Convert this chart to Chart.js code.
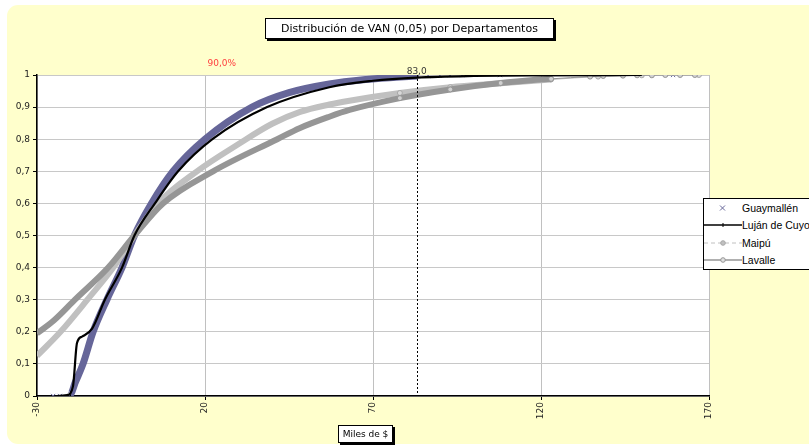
<!DOCTYPE html>
<html>
  <head>
    <title>Distribución de VAN</title>
    <script src="https://cdn.jsdelivr.net/npm/chart.js"></script>
    <style>
      body {
        margin: 0;
        background: white;
        width: 809px;
        height: 446px;
        overflow: hidden;
        position: relative;
      }
      .frame {
        position: absolute;
        left: 7px;
        top: 5px;
        width: 840px;
        height: 439px;
        border-radius: 11px;
        background-color: #ffffcc;
      }
      #vanChart {
        position: absolute;
        left: 0;
        top: 0;
      }
      .box {
        position: absolute;
        background: white;
        border: 1px solid #000;
        box-shadow: 2px 2px 0 #000;
        font-family: "DejaVu Sans", sans-serif;
        color: #000;
        text-align: center;
        white-space: nowrap;
      }
      .title {
        left: 265px;
        top: 18px;
        width: 287px;
        height: 19px;
        line-height: 19px;
        font-size: 11px;
      }
      .xlabel {
        left: 338px;
        top: 425px;
        width: 53px;
        height: 16px;
        line-height: 16px;
        font-size: 9px;
      }
      .legend {
        position: absolute;
        left: 703px;
        top: 198px;
        width: 130px;
        height: 70px;
        background: white;
        border: 1px solid #000;
        font-family: "Liberation Sans", Arial, sans-serif;
        font-size: 10.5px;
        color: #000;
      }
      .legend div {
        height: 17.5px;
        display: flex;
        align-items: center;
      }
      .legend svg {
        width: 38px;
        height: 10px;
      }
    </style>
  </head>
  <body>
    <div class="frame"></div>
    <canvas id="vanChart" width="809" height="446"></canvas>
    <div class="box title">Distribución de VAN (0,05) por Departamentos</div>
    <div class="box xlabel">Miles de $</div>
    <div class="legend" id="legend"></div>

    <script>
      // datos (miles de $, probabilidad acumulada)
      const guayX = [-25.2, -23.2, -20, -18.7, -16.3, -13.3, -9.2, -4.7, -1, 4.1, 10.5, 20, 34, 45, 57, 68, 78, 83.4, 86.4, 89.9, 92.9, 96.5, 107.8, 159.3];
      const guayY = [0, 0, 0.005, 0.04, 0.1, 0.2, 0.3, 0.4, 0.5, 0.6, 0.7, 0.8, 0.9, 0.945, 0.972, 0.986, 0.994, 0.997, 0.998, 0.999, 1, 1, 1, 1];

      const lujanX = [-24, -21, -19.3, -18.1, -16.6, -13.6, -9.8, -4.7, -1, 5.1, 12, 22.2, 38.5, 57, 70, 83, 100, 120, 150];
      const lujanY = [0, 0.003, 0.03, 0.165, 0.185, 0.21, 0.3, 0.4, 0.5, 0.6, 0.7, 0.8, 0.9, 0.962, 0.982, 0.992, 0.997, 0.999, 1];

      const maipuX = [-30, -23, -15, -7.3, -1, 6, 17.6, 30, 40, 48.3, 57, 63, 78, 93, 108, 123, 137, 150, 167];
      const maipuY = [0.125, 0.2, 0.3, 0.4, 0.5, 0.6, 0.7, 0.785, 0.848, 0.885, 0.908, 0.92, 0.944, 0.962, 0.974, 0.986, 0.995, 0.999, 1];

      const lavalleX = [-30, -25, -18.7, -8.8, -1, 7.5, 22.4, 41.5, 48.3, 57, 63, 78, 93, 108, 123, 134.6, 138.5, 144.4, 148.6, 153, 157, 161.4, 165.8];
      const lavalleY = [0.195, 0.235, 0.3, 0.4, 0.5, 0.6, 0.7, 0.8, 0.835, 0.87, 0.891, 0.928, 0.955, 0.975, 0.988, 0.995, 0.997, 0.998, 0.999, 0.999, 1, 1, 1];

      const xTicks = [-30, 20, 70, 120, 170];
      const cutoffX = 83;
      const cutoffLabel = "83,0";
      const pctX = 25;
      const pctLabel = "90,0%";

      const pts = (xs, ys) => xs.map((x, i) => ({ x: x, y: ys[i] }));

      // fondo blanco del area de trazado + linea de corte y etiquetas
      const extras = {
        id: "extras",
        beforeDraw(chart) {
          const a = chart.chartArea;
          const c = chart.ctx;
          c.save();
          c.fillStyle = "#fff";
          c.fillRect(a.left, a.top, a.right - a.left, a.bottom - a.top);
          c.restore();
        },
        afterDatasetsDraw(chart) {
          const c = chart.ctx;
          const xs = chart.scales.x;
          const ys = chart.scales.y;
          const px = xs.getPixelForValue(cutoffX);
          c.save();
          c.strokeStyle = "#000";
          c.lineWidth = 1;
          c.setLineDash([2, 2]);
          c.beginPath();
          c.moveTo(Math.round(px) + 0.5, ys.getPixelForValue(1));
          c.lineTo(Math.round(px) + 0.5, ys.getPixelForValue(0));
          c.stroke();
          c.setLineDash([]);
          c.font = "9px 'DejaVu Sans'";
          c.textAlign = "center";
          c.textBaseline = "bottom";
          c.fillStyle = "#333";
          c.fillText(cutoffLabel, px, ys.getPixelForValue(1) + 1);
          c.fillStyle = "#ff4040";
          c.fillText(pctLabel, xs.getPixelForValue(pctX), ys.getPixelForValue(1) - 7);
          c.restore();
        },
      };

      const tail = (min) => (ctx) => (ctx.raw && (ctx.raw.x >= min) ? 2.5 : 0);

      new Chart(document.getElementById("vanChart"), {
        type: "line",
        data: {
          datasets: [
            {
              label: "Luján de Cuyo",
              data: pts(lujanX, lujanY),
              borderColor: "#000",
              borderWidth: 2.2,
              pointRadius: 0,
              cubicInterpolationMode: "monotone",
              order: 0,
            },
            {
              label: "Guaymallén",
              data: pts(guayX, guayY),
              borderColor: "#666699",
              borderWidth: 7,
              cubicInterpolationMode: "monotone",
              pointStyle: "crossRot",
              pointBorderColor: "#666699",
              pointBorderWidth: 1,
              pointRadius: (ctx) => (ctx.raw && (ctx.raw.x <= -20 || ctx.raw.x >= 83) ? 3 : 0),
              segment: {
                borderColor: (ctx) =>
                  ctx.p1.parsed.x <= -20 || ctx.p0.parsed.x >= 83 ? "rgba(0,0,0,0)" : undefined,
              },
              order: 3,
            },
            {
              label: "Maipú",
              data: pts(maipuX, maipuY),
              borderColor: "#c0c0c0",
              borderWidth: 6,
              cubicInterpolationMode: "monotone",
              pointStyle: "circle",
              pointBackgroundColor: "#d8d8d8",
              pointBorderColor: "#a8a8a8",
              pointBorderWidth: 1,
              pointRadius: tail(78),
              segment: {
                borderWidth: (ctx) => (ctx.p0.parsed.x >= 123 ? 1 : undefined),
              },
              order: 2,
            },
            {
              label: "Lavalle",
              data: pts(lavalleX, lavalleY),
              borderColor: "#969696",
              borderWidth: 6,
              cubicInterpolationMode: "monotone",
              pointStyle: "circle",
              pointBackgroundColor: "#d0d0d0",
              pointBorderColor: "#969696",
              pointBorderWidth: 1,
              pointRadius: tail(78),
              segment: {
                borderWidth: (ctx) => (ctx.p0.parsed.x >= 123 ? 1 : undefined),
              },
              order: 1,
            },
          ],
        },
        options: {
          responsive: false,
          animation: false,
          layout: { padding: { left: 10, top: 75, right: 100, bottom: 20 } },
          plugins: {
            legend: { display: false },
            tooltip: { enabled: false },
          },
          scales: {
            x: {
              type: "linear",
              min: -30,
              max: 170,
              afterBuildTicks: (axis) => {
                axis.ticks = xTicks.map((v) => ({ value: v }));
              },
              afterFit: (axis) => {
                axis.height = 30;
              },
              ticks: {
                minRotation: 90,
                maxRotation: 90,
                padding: 2,
                color: "#222",
                font: { family: "DejaVu Sans", size: 9 },
                callback: (v) => String(v),
              },
              grid: { color: "#c0c0c0", tickColor: "#000", tickLength: 4 },
              border: { color: "#000", width: 1.5 },
            },
            y: {
              min: 0,
              max: 1,
              afterFit: (axis) => {
                axis.width = 27;
              },
              ticks: {
                stepSize: 0.1,
                padding: 3,
                color: "#222",
                font: { family: "DejaVu Sans", size: 9 },
                callback: (v) => (v === 0 ? "0" : v >= 0.999 ? "1" : v.toFixed(1).replace(".", ",")),
              },
              grid: { color: "#c8c8c8", tickColor: "#000", tickLength: 4 },
              border: { color: "#000", width: 1.5 },
            },
          },
        },
        plugins: [extras],
      });

      // leyenda tipo Excel
      const icons = {
        "Guaymallén": '<path d="M16 2.5 L21 7.5 M21 2.5 L16 7.5" stroke="#666699" stroke-width="1"/>',
        "Luján de Cuyo": '<line x1="0" y1="5" x2="38" y2="5" stroke="#000" stroke-width="1.5"/><line x1="19" y1="3" x2="19" y2="7" stroke="#000"/>',
        "Maipú": '<line x1="0" y1="5" x2="38" y2="5" stroke="#c0c0c0" stroke-width="1" stroke-dasharray="4 3"/><circle cx="19" cy="5" r="2.3" fill="#c0c0c0" stroke="#a8a8a8"/>',
        "Lavalle": '<line x1="0" y1="5" x2="38" y2="5" stroke="#969696" stroke-width="1.5"/><circle cx="19" cy="5" r="2.3" fill="#e0e0e0" stroke="#969696"/>',
      };
      document.getElementById("legend").innerHTML = Object.keys(icons)
        .map((k) => `<div><svg viewBox="0 0 38 10">${icons[k]}</svg>${k}</div>`)
        .join("");
    </script>
  </body>
</html>
